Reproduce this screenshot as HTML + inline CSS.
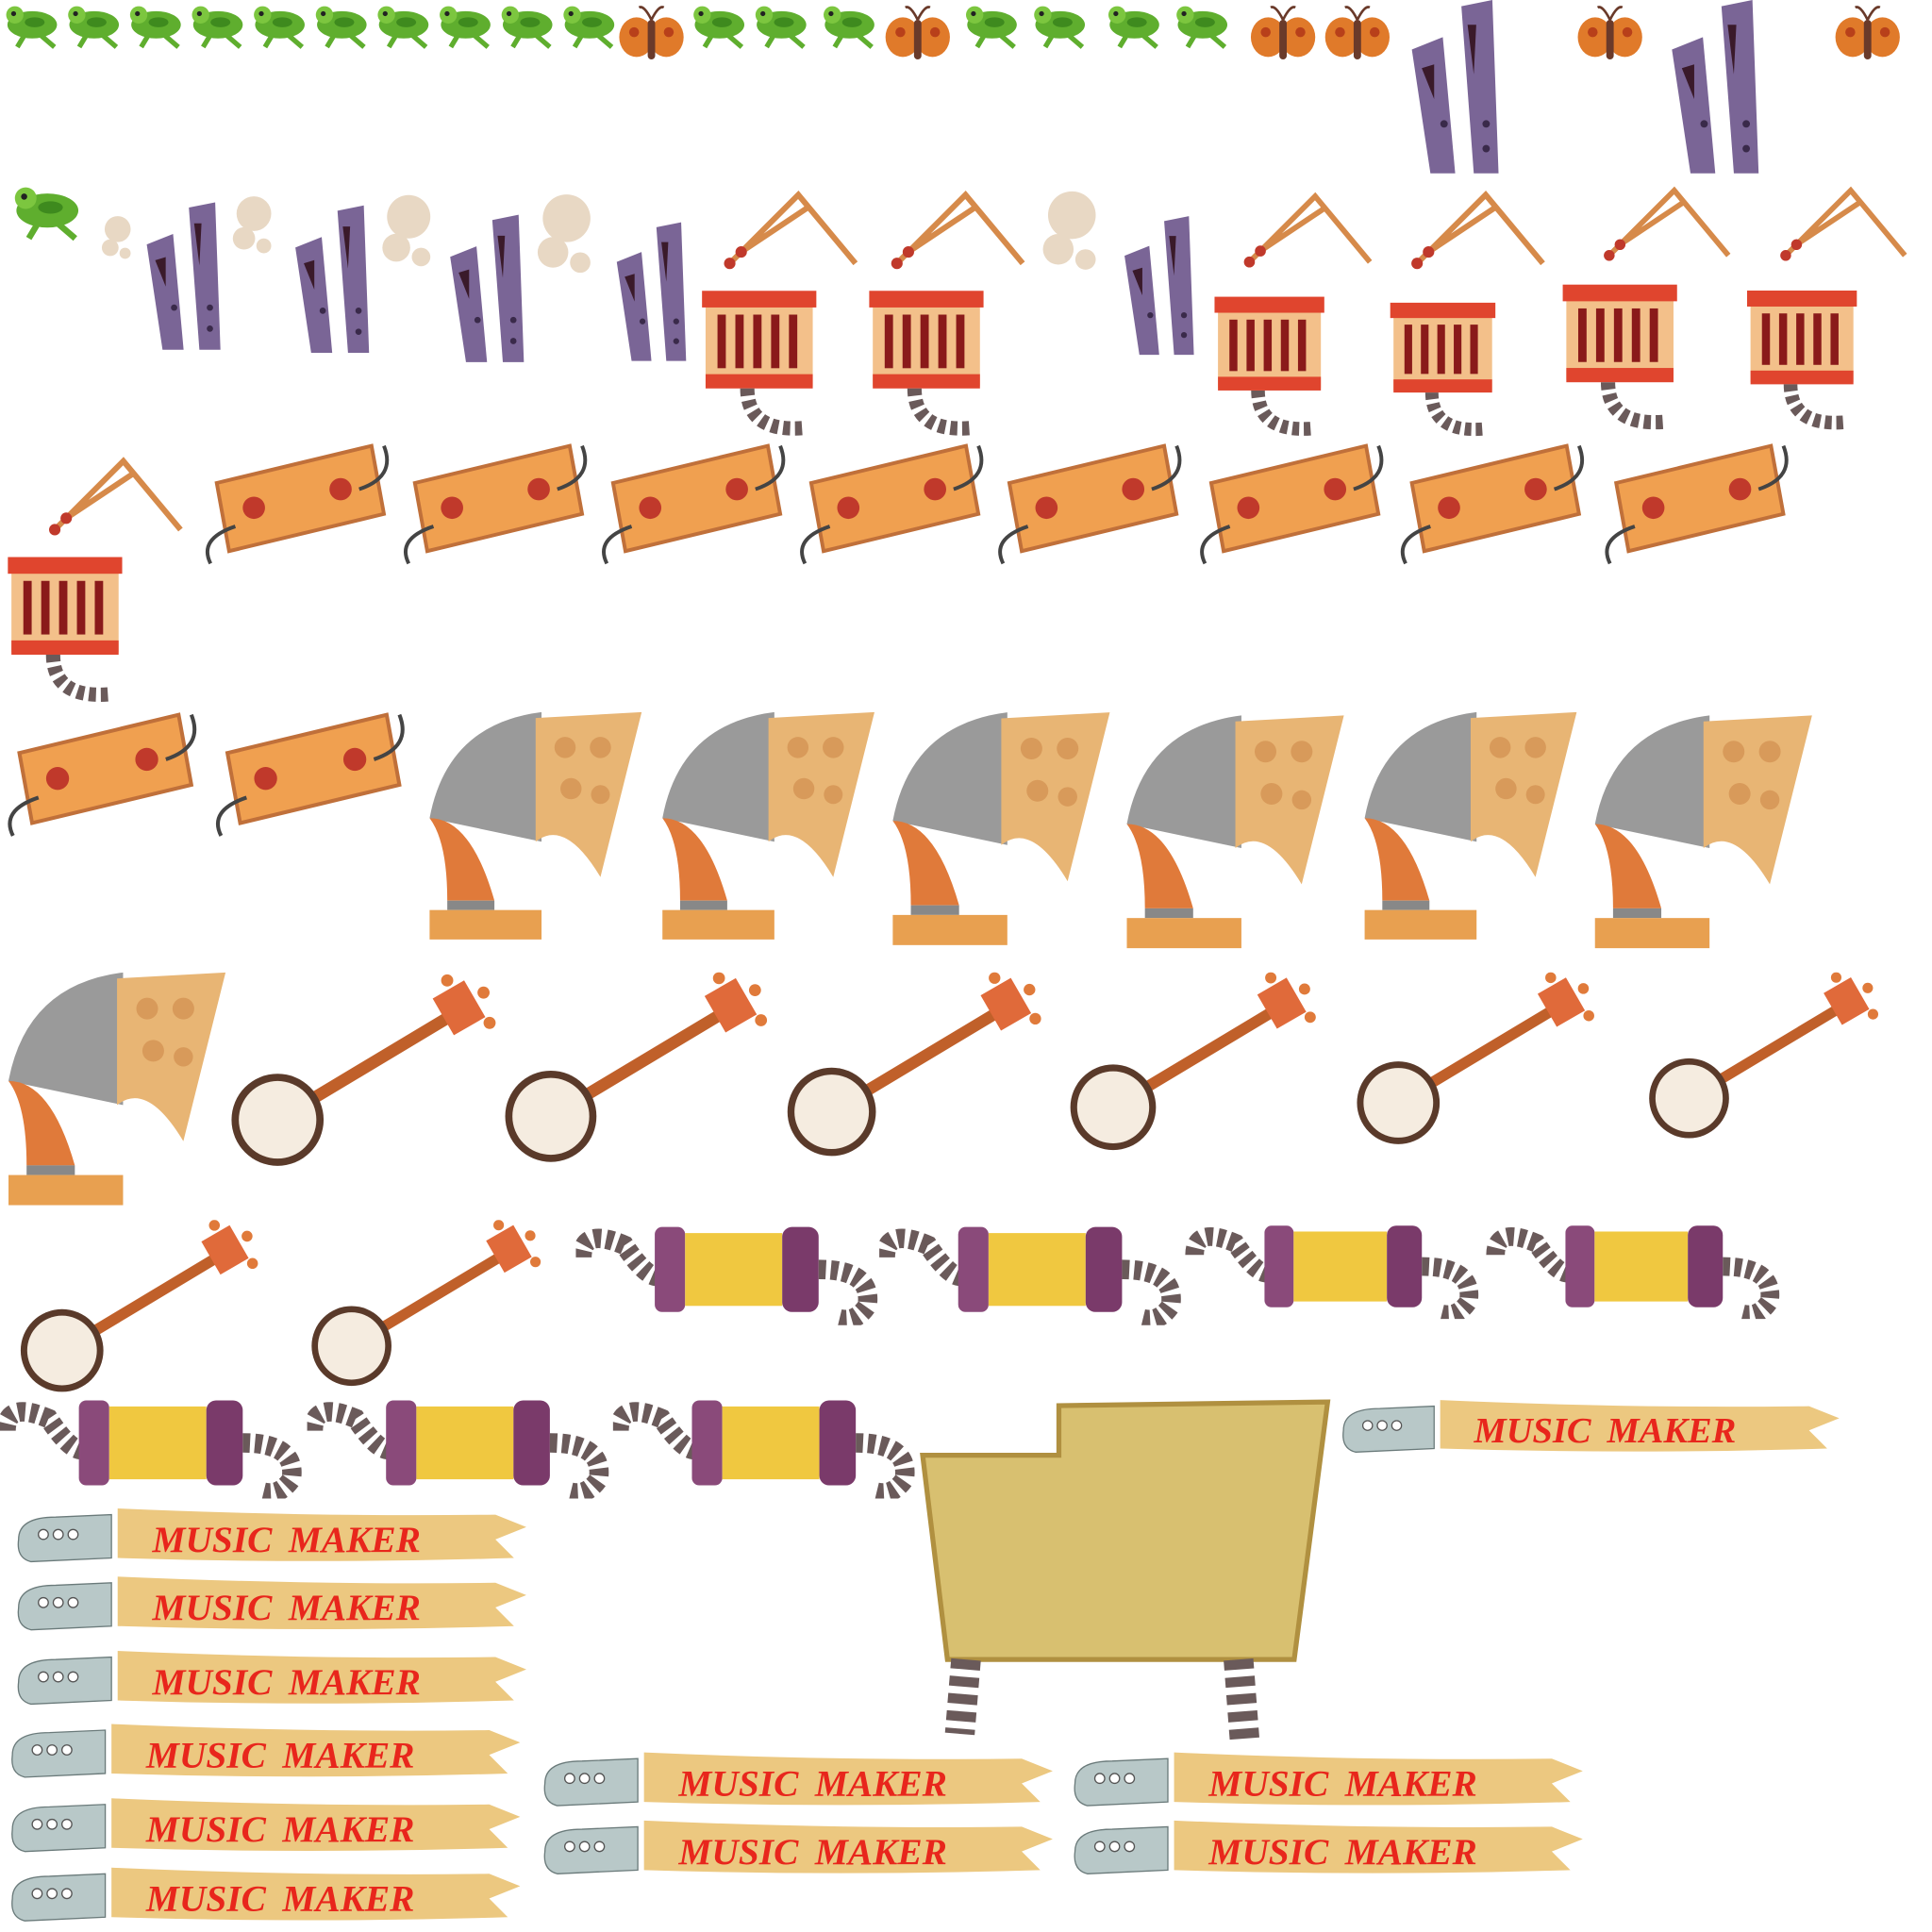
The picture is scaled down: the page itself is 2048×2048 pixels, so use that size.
<!DOCTYPE html>
<html><head><meta charset="utf-8"><style>
html,body{margin:0;padding:0;background:#fff;width:2048px;height:2048px;overflow:hidden}
svg{display:block}
.mt{font-family:"Liberation Serif",serif;font-weight:bold;font-size:30px;fill:#e8261c;font-style:italic}
</style></head><body>
<svg width="2048" height="2048" viewBox="0 0 1560 1560" xmlns="http://www.w3.org/2000/svg" xmlns:xlink="http://www.w3.org/1999/xlink">
<defs>
<symbol id="frog" viewBox="0 0 50 40"><ellipse cx="26" cy="20" rx="20" ry="11" fill="#5fae2e"/><circle cx="12" cy="12" r="7" fill="#7cc63f"/><circle cx="11" cy="11" r="2" fill="#222"/><path d="M30 26 L44 38 M20 28 L14 38" stroke="#5fae2e" stroke-width="4"/><ellipse cx="28" cy="18" rx="8" ry="4" fill="#3e8a1e"/></symbol>
<symbol id="fly" viewBox="0 0 56 56"><ellipse cx="16" cy="30" rx="14" ry="16" fill="#e07a2a"/><ellipse cx="40" cy="30" rx="14" ry="16" fill="#e07a2a"/><circle cx="14" cy="26" r="4" fill="#b8401a"/><circle cx="42" cy="26" r="4" fill="#b8401a"/><rect x="25" y="16" width="6" height="32" rx="3" fill="#6a3a2a"/><path d="M28 16 Q22 4 18 6 M28 16 Q34 4 38 6" stroke="#6a3a2a" fill="none" stroke-width="2"/></symbol>
<symbol id="pipe" viewBox="0 0 100 145"><path d="M10 40 L35 30 L45 140 L25 140 Z" fill="#7a6596"/><path d="M50 5 L75 0 L80 140 L60 140 Z" fill="#7a6596"/><path d="M55 20 L62 20 L60 60 Z" fill="#3a1a2a"/><path d="M18 55 L28 52 L28 80 Z" fill="#3a1a2a"/><circle cx="36" cy="100" r="3" fill="#3a2a4a"/><circle cx="70" cy="100" r="3" fill="#3a2a4a"/><circle cx="70" cy="120" r="3" fill="#3a2a4a"/></symbol>
<symbol id="smoke" viewBox="0 0 40 60"><circle cx="20" cy="20" r="14" fill="#e8d8c4"/><circle cx="12" cy="40" r="9" fill="#e8d8c4"/><circle cx="28" cy="46" r="6" fill="#e8d8c4"/></symbol>
<symbol id="sticks" viewBox="0 0 130 80"><path d="M10 70 L70 10 L120 70 M20 60 L80 20" stroke="#d68a4a" stroke-width="5" fill="none"/><circle cx="10" cy="70" r="5" fill="#c0392b"/><circle cx="20" cy="60" r="5" fill="#c0392b"/></symbol>
<symbol id="drum" viewBox="0 0 100 130"><rect x="5" y="10" width="90" height="75" fill="#f3c08a"/><rect x="2" y="5" width="96" height="14" fill="#e0452e"/><rect x="5" y="75" width="90" height="12" fill="#e0452e"/><g fill="#8a1a1a"><rect x="15" y="25" width="7" height="45"/><rect x="30" y="25" width="7" height="45"/><rect x="45" y="25" width="7" height="45"/><rect x="60" y="25" width="7" height="45"/><rect x="75" y="25" width="7" height="45"/></g><path d="M40 87 Q40 125 90 120" stroke="#6a5a5a" stroke-width="12" fill="none" stroke-dasharray="6 4"/></symbol>
<symbol id="xylo" viewBox="0 0 160 105"><path d="M15 35 L140 5 L150 60 L25 90 Z" fill="#f0a050" stroke="#c0703a" stroke-width="3"/><circle cx="45" cy="55" r="9" fill="#c0392b"/><circle cx="115" cy="40" r="9" fill="#c0392b"/><path d="M30 70 Q0 80 10 100 M130 40 Q160 30 150 5" stroke="#444" stroke-width="3" fill="none"/></symbol>
<symbol id="gram" viewBox="0 0 190 205"><path d="M5 90 Q20 10 100 0 L100 110 Z" fill="#9a9a9a"/><path d="M95 5 L185 0 L150 140 Q120 90 95 110 Z" fill="#e8b574"/><g fill="#d89a5a"><circle cx="120" cy="30" r="9"/><circle cx="150" cy="30" r="9"/><circle cx="125" cy="65" r="9"/><circle cx="150" cy="70" r="8"/></g><path d="M5 90 Q40 90 60 160 L20 160 Q20 110 5 90 Z" fill="#e07a3a"/><rect x="20" y="160" width="40" height="8" fill="#888"/><rect x="5" y="168" width="95" height="25" fill="#e8a050"/></symbol>
<symbol id="banjo" viewBox="0 0 230 165"><path d="M40 120 L190 30" stroke="#c0602a" stroke-width="10"/><rect x="175" y="10" width="30" height="35" fill="#e06a3a" transform="rotate(-30 190 28)"/><circle cx="40" cy="120" r="38" fill="#5a3a2a"/><circle cx="40" cy="120" r="32" fill="#f5ece0"/><g fill="#e07a3a"><circle cx="210" cy="15" r="5"/><circle cx="215" cy="40" r="5"/><circle cx="180" cy="5" r="5"/></g></symbol>
<symbol id="acc" viewBox="0 0 250 85"><path d="M5 30 Q5 5 40 20 Q60 50 70 45" stroke="#6a5a5a" stroke-width="16" fill="none" stroke-dasharray="6 4"/><rect x="65" y="5" width="25" height="70" rx="6" fill="#8a4a7a"/><rect x="90" y="10" width="80" height="60" fill="#f0c840"/><rect x="170" y="5" width="30" height="70" rx="8" fill="#7a3a6a"/><path d="M200 40 Q245 40 240 70 Q230 85 215 80" stroke="#6a5a5a" stroke-width="16" fill="none" stroke-dasharray="6 4"/></symbol>
<symbol id="banner" viewBox="0 0 425 55"><path d="M10 30 Q10 12 40 12 L85 10 L85 45 L20 48 Q8 45 10 30 Z" fill="#b8c8c8" stroke="#6a7a7a"/><circle cx="30" cy="26" r="4" fill="#fff" stroke="#555"/><circle cx="42" cy="26" r="4" fill="#fff" stroke="#555"/><circle cx="54" cy="26" r="4" fill="#fff" stroke="#555"/><path d="M90 5 Q250 12 395 10 L420 20 L395 30 L410 45 Q250 50 90 45 Z" fill="#ecc880"/><text class="mt" x="118" y="40">MUSIC</text><text class="mt" x="228" y="40">MAKER</text></symbol>
</defs>
<g>
<use href="#frog" x="0" y="0" width="50" height="40"/><use href="#frog" x="50" y="0" width="50" height="40"/><use href="#frog" x="100" y="0" width="50" height="40"/><use href="#frog" x="150" y="0" width="50" height="40"/><use href="#frog" x="200" y="0" width="50" height="40"/><use href="#frog" x="250" y="0" width="50" height="40"/><use href="#frog" x="300" y="0" width="50" height="40"/><use href="#frog" x="350" y="0" width="50" height="40"/><use href="#frog" x="400" y="0" width="50" height="40"/><use href="#frog" x="450" y="0" width="50" height="40"/><use href="#fly" x="498" y="0" width="56" height="56"/><use href="#frog" x="555" y="0" width="50" height="40"/><use href="#frog" x="605" y="0" width="50" height="40"/><use href="#frog" x="660" y="0" width="50" height="40"/><use href="#fly" x="713" y="0" width="56" height="56"/><use href="#frog" x="775" y="0" width="50" height="40"/><use href="#frog" x="830" y="0" width="50" height="40"/><use href="#frog" x="890" y="0" width="50" height="40"/><use href="#frog" x="945" y="0" width="50" height="40"/><use href="#fly" x="1008" y="0" width="56" height="56"/><use href="#fly" x="1068" y="0" width="56" height="56"/><use href="#pipe" x="1130" y="0" width="100" height="145"/><use href="#fly" x="1272" y="0" width="56" height="56"/><use href="#pipe" x="1340" y="0" width="100" height="145"/><use href="#fly" x="1480" y="0" width="56" height="56"/>
</g>
<g>
<use href="#frog" x="2" y="145" width="70" height="50"/><use href="#smoke" x="75" y="170" width="40" height="45"/><use href="#pipe" x="110" y="150" width="85" height="150"/><use href="#smoke" x="185" y="145" width="40" height="75"/><use href="#pipe" x="230" y="150" width="85" height="155"/><use href="#smoke" x="305" y="145" width="50" height="85"/><use href="#pipe" x="355" y="155" width="85" height="160"/><use href="#smoke" x="430" y="145" width="55" height="90"/><use href="#pipe" x="490" y="160" width="80" height="155"/><use href="#sticks" x="580" y="145" width="120" height="80"/><use href="#drum" x="563" y="230" width="100" height="125"/><use href="#sticks" x="715" y="145" width="120" height="80"/><use href="#drum" x="698" y="230" width="100" height="125"/><use href="#smoke" x="838" y="145" width="55" height="85"/><use href="#pipe" x="900" y="155" width="80" height="155"/><use href="#sticks" x="1000" y="145" width="115" height="80"/><use href="#drum" x="975" y="235" width="100" height="120"/><use href="#sticks" x="1135" y="145" width="120" height="80"/><use href="#drum" x="1115" y="240" width="100" height="115"/><use href="#sticks" x="1290" y="145" width="115" height="70"/><use href="#drum" x="1258" y="225" width="100" height="125"/><use href="#sticks" x="1430" y="145" width="120" height="70"/><use href="#drum" x="1405" y="230" width="100" height="120"/>
</g>
<g>
<use href="#sticks" x="35" y="355" width="120" height="90"/><use href="#drum" x="0" y="445" width="105" height="125"/>
<use href="#xylo" x="160" y="355" width="160" height="105"/><use href="#xylo" x="320" y="355" width="160" height="105"/><use href="#xylo" x="480" y="355" width="160" height="105"/><use href="#xylo" x="640" y="355" width="160" height="105"/><use href="#xylo" x="800" y="355" width="160" height="105"/><use href="#xylo" x="963" y="355" width="160" height="105"/><use href="#xylo" x="1125" y="355" width="160" height="105"/><use href="#xylo" x="1290" y="355" width="160" height="105"/>
</g>
<g>
<use href="#xylo" x="0" y="572" width="165" height="108"/><use href="#xylo" x="168" y="572" width="165" height="108"/>
<use href="#gram" x="340" y="575" width="185" height="195"/><use href="#gram" x="528" y="575" width="185" height="195"/><use href="#gram" x="716" y="575" width="185" height="200"/><use href="#gram" x="905" y="575" width="185" height="205"/><use href="#gram" x="1095" y="575" width="185" height="195"/><use href="#gram" x="1283" y="575" width="185" height="205"/>
</g>
<g>
<use href="#gram" x="2" y="785" width="185" height="200"/>
<use href="#banjo" x="185" y="785" width="225" height="165"/><use href="#banjo" x="405" y="785" width="225" height="160"/><use href="#banjo" x="628" y="785" width="228" height="155"/><use href="#banjo" x="853" y="785" width="228" height="150"/><use href="#banjo" x="1080" y="785" width="230" height="145"/><use href="#banjo" x="1310" y="785" width="235" height="140"/>
</g>
<g>
<use href="#banjo" x="0" y="985" width="232" height="145"/><use href="#banjo" x="230" y="985" width="235" height="140"/>
<use href="#acc" x="465" y="985" width="245" height="85"/><use href="#acc" x="710" y="985" width="245" height="85"/><use href="#acc" x="955" y="985" width="245" height="80"/><use href="#acc" x="1198" y="985" width="245" height="80"/>
</g>
<g>
<use href="#acc" x="0" y="1125" width="245" height="85"/><use href="#acc" x="248" y="1125" width="245" height="85"/><use href="#acc" x="495" y="1125" width="245" height="85"/>
<g><path d="M745 1175 L855 1175 L855 1135 L1072 1132 L1045 1340 L765 1340 Z" fill="#d8c070" stroke="#b09040" stroke-width="4"/><path d="M780 1340 L775 1400 M1000 1340 L1005 1405" stroke="#6a5a5a" stroke-width="24" stroke-dasharray="8 6"/></g>
<use href="#banner" x="1075" y="1125" width="415" height="55"/>
</g>
<g>
<use href="#banner" x="5" y="1213" width="425" height="55"/><use href="#banner" x="5" y="1268" width="425" height="55"/><use href="#banner" x="5" y="1328" width="425" height="55"/><use href="#banner" x="0" y="1387" width="425" height="55"/><use href="#banner" x="0" y="1447" width="425" height="55"/><use href="#banner" x="0" y="1503" width="425" height="55"/>
<use href="#banner" x="430" y="1410" width="425" height="55"/><use href="#banner" x="430" y="1465" width="425" height="55"/><use href="#banner" x="858" y="1410" width="425" height="55"/><use href="#banner" x="858" y="1465" width="425" height="55"/>
</g>
</svg>
</body></html>
